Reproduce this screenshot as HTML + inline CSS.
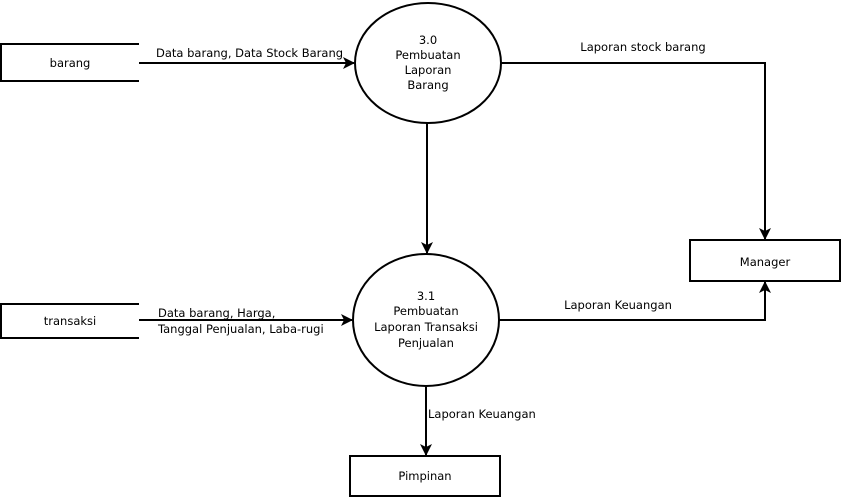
<!DOCTYPE html>
<html><head><meta charset="utf-8"><style>
html,body{margin:0;padding:0;background:#fff;}
svg{display:block;}
text{font-family:"DejaVu Sans","Liberation Sans",sans-serif;font-size:11.5px;fill:#000;}
</style></head><body>
<svg width="842" height="500" viewBox="0 0 842 500">
<defs><marker id="a" markerWidth="12" markerHeight="12" refX="11" refY="6" orient="auto" markerUnits="userSpaceOnUse"><path d="M0,0 L12,6 L0,12 L3,6 Z" fill="#000"/></marker></defs>
<g stroke="#000" stroke-width="2" fill="none">
<path d="M139,44 H1 V81 H139"/>
<path d="M139,304 H1 V338 H139"/>
<ellipse cx="428" cy="63" rx="73" ry="60"/>
<ellipse cx="426" cy="320" rx="73" ry="66"/>
<rect x="350" y="456" width="150" height="40"/>
<rect x="690" y="240" width="150" height="41"/>
<line x1="139" y1="63" x2="354" y2="63" marker-end="url(#a)"/>
<line x1="139" y1="320" x2="352" y2="320" marker-end="url(#a)"/>
<line x1="427" y1="123" x2="427" y2="253" marker-end="url(#a)"/>
<line x1="426" y1="387" x2="426" y2="455" marker-end="url(#a)"/>
<polyline points="501,63 765,63 765,239" marker-end="url(#a)"/>
<polyline points="499,320 765,320 765,282" marker-end="url(#a)"/>
</g>
<g text-anchor="middle">
<text x="70" y="67">barang</text>
<text x="70" y="325">transaksi</text>
<text x="428" y="44">3.0</text>
<text x="428" y="59">Pembuatan</text>
<text x="428" y="74">Laporan</text>
<text x="428" y="89">Barang</text>
<text x="426" y="300">3.1</text>
<text x="426" y="315">Pembuatan</text>
<text x="426" y="331">Laporan Transaksi</text>
<text x="426" y="347">Penjualan</text>
<text x="425" y="480">Pimpinan</text>
<text x="765" y="266">Manager</text>
<text x="643" y="51">Laporan stock barang</text>
<text x="618" y="309">Laporan Keuangan</text>
</g>
<text x="156" y="57">Data barang, Data Stock Barang</text>
<text x="158" y="317">Data barang, Harga,</text>
<text x="158" y="333">Tanggal Penjualan, Laba-rugi</text>
<text x="428" y="418">Laporan Keuangan</text>
</svg>
</body></html>
